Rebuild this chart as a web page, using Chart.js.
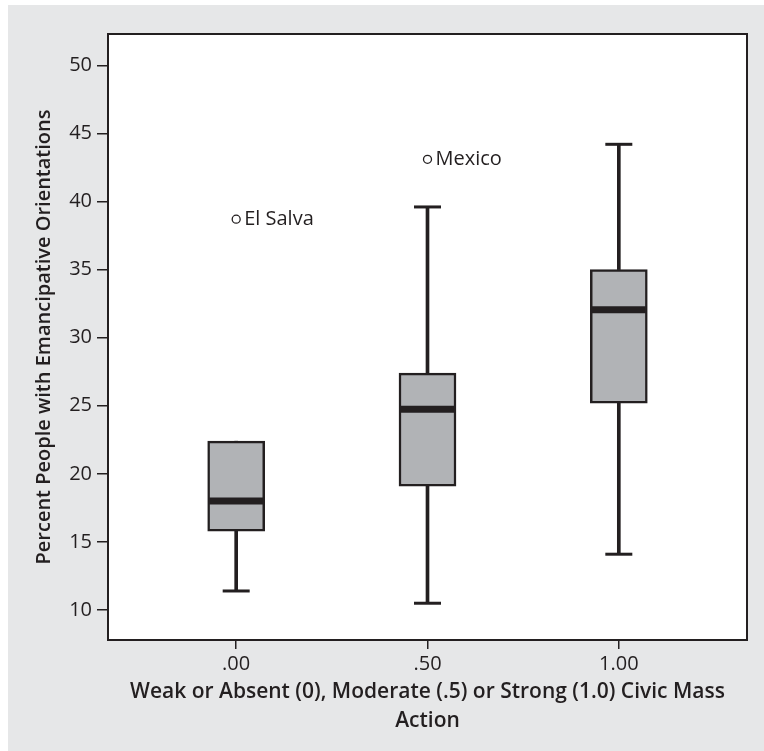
<!DOCTYPE html>
<html>
<head>
<meta charset="utf-8">
<script src="https://cdn.jsdelivr.net/npm/chart.js@4/dist/chart.umd.min.js"></script>
<style>
  html, body { margin: 0; padding: 0; background: #ffffff; }
  #wrap { position: absolute; left: 8px; top: 5px; width: 756px; height: 746px; background: #e6e7e8; }
</style>
</head>
<body>
<div id="wrap"><canvas id="myChart"></canvas></div>
<script>
// group positions and tick labels
const groupX = [0, 0.5, 1];
const xTickLabels = ['.00', '.50', '1.00'];
const yTicks = [10, 15, 20, 25, 30, 35, 40, 45, 50];

// box plot values per group
const whiskerLow = [11.4, 10.5, 14.1];
const q1 = [15.8, 19.1, 25.2];
const median = [18.0, 24.75, 32.05];
const q3 = [22.4, 27.4, 35.0];
const whiskerHigh = [22.4, 39.6, 44.2];

// outliers
const outlierX = [0, 0.5];
const outlierY = [38.7, 43.1];
const outlierNames = ['El Salva', 'Mexico'];

const ink = '#231f20';
const fontFamily = '"Open Sans", "Noto Sans", sans-serif';

const pairs = (a, b) => groupX.map((x, i) => ({ x: x, y: [a[i], b[i]] }));
const points = (vals) => groupX.map((x, i) => ({ x: x, y: vals[i] }));

// caps only where the whisker reaches past the box
const caps = groupX.map((x, i) => ({ x: x, y: whiskerHigh[i] }))
  .filter((p, i) => whiskerHigh[i] > q3[i])
  .concat(groupX.map((x, i) => ({ x: x, y: whiskerLow[i] })).filter((p, i) => whiskerLow[i] < q1[i]));

// white plot area, frame round it, outlier names
const framePlugin = {
  id: 'frame',
  beforeDatasetsDraw(chart) {
    const { ctx, chartArea } = chart;
    ctx.save();
    ctx.fillStyle = '#ffffff';
    ctx.fillRect(chartArea.left, chartArea.top, chartArea.right - chartArea.left, chartArea.bottom - chartArea.top);
    ctx.restore();
  },
  afterDatasetsDraw(chart) {
    const { ctx, chartArea, scales } = chart;
    ctx.save();
    ctx.strokeStyle = ink;
    ctx.lineWidth = 2;
    ctx.strokeRect(chartArea.left, chartArea.top, chartArea.right - chartArea.left, chartArea.bottom - chartArea.top);
    ctx.fillStyle = ink;
    ctx.font = '20px ' + fontFamily;
    ctx.textBaseline = 'middle';
    ctx.textAlign = 'left';
    outlierNames.forEach((name, i) => {
      const px = scales.x.getPixelForValue(outlierX[i]);
      const py = scales.y.getPixelForValue(outlierY[i]);
      ctx.fillText(name, px + 8, py);
    });
    ctx.restore();
  }
};

const ctx = document.getElementById('myChart').getContext('2d');
const myChart = new Chart(ctx, {
  type: 'bar',
  data: {
    datasets: [
      {
        label: 'upper whisker',
        data: pairs(q3, whiskerHigh),
        backgroundColor: ink,
        borderWidth: 0,
        barThickness: 3,
        grouped: false,
        order: 6
      },
      {
        label: 'lower whisker',
        data: pairs(whiskerLow, q1),
        backgroundColor: ink,
        borderWidth: 0,
        barThickness: 3,
        grouped: false,
        order: 6
      },
      {
        type: 'scatter',
        label: 'caps',
        data: caps,
        pointStyle: 'line',
        pointRadius: 13.5,
        borderColor: ink,
        borderWidth: 3,
        order: 5
      },
      {
        label: 'box',
        data: pairs(q1, q3),
        backgroundColor: '#b1b3b6',
        borderColor: ink,
        borderWidth: 2.5,
        borderSkipped: false,
        barThickness: 57,
        grouped: false,
        order: 4
      },
      {
        type: 'scatter',
        label: 'median',
        data: points(median),
        pointStyle: 'line',
        pointRadius: 27,
        borderColor: ink,
        borderWidth: 7,
        order: 3
      },
      {
        type: 'scatter',
        label: 'outliers',
        data: outlierX.map((x, i) => ({ x: x, y: outlierY[i] })),
        pointStyle: 'circle',
        pointRadius: 4,
        backgroundColor: '#ffffff',
        borderColor: ink,
        borderWidth: 1.3,
        order: 1
      }
    ]
  },
  options: {
    responsive: true,
    maintainAspectRatio: false,
    animation: false,
    events: [],
    layout: { autoPadding: false, padding: { left: 0, top: 29, right: 17, bottom: 0 } },
    plugins: {
      legend: { display: false },
      tooltip: { enabled: false }
    },
    scales: {
      x: {
        type: 'linear',
        min: -0.335,
        max: 1.335,
        offset: false,
        afterBuildTicks: (scale) => { scale.ticks = groupX.map(v => ({ value: v })); },
        afterFit: (scale) => { scale.height = 111; },
        border: { display: false },
        grid: { offset: false, drawOnChartArea: false, drawTicks: true, tickLength: 9, color: ink, lineWidth: 1.5 },
        ticks: {
          color: ink,
          padding: 3,
          font: { family: fontFamily, size: 20 },
          callback: (v) => xTickLabels[groupX.indexOf(v)]
        },
        title: {
          display: true,
          text: ['Weak or Absent (0), Moderate (.5) or Strong (1.0) Civic Mass', 'Action'],
          color: ink,
          font: { family: fontFamily, size: 21, weight: '600', lineHeight: 1.35 },
          padding: { top: 0, bottom: 16 }
        }
      },
      y: {
        type: 'linear',
        min: 7.8,
        max: 52.3,
        afterBuildTicks: (scale) => { scale.ticks = yTicks.map(v => ({ value: v })); },
        afterFit: (scale) => { scale.width = 100; },
        border: { display: false },
        grid: { drawOnChartArea: false, drawTicks: true, tickLength: 11, color: ink, lineWidth: 1.5 },
        ticks: {
          color: ink,
          padding: 5,
          font: { family: fontFamily, size: 20 }
        },
        title: {
          display: true,
          text: 'Percent People with Emancipative Orientations',
          color: ink,
          font: { family: fontFamily, size: 20, weight: '600', lineHeight: 1.2 },
          padding: { top: 24, bottom: 0 }
        }
      }
    }
  },
  plugins: [framePlugin]
});
</script>
</body>
</html>
